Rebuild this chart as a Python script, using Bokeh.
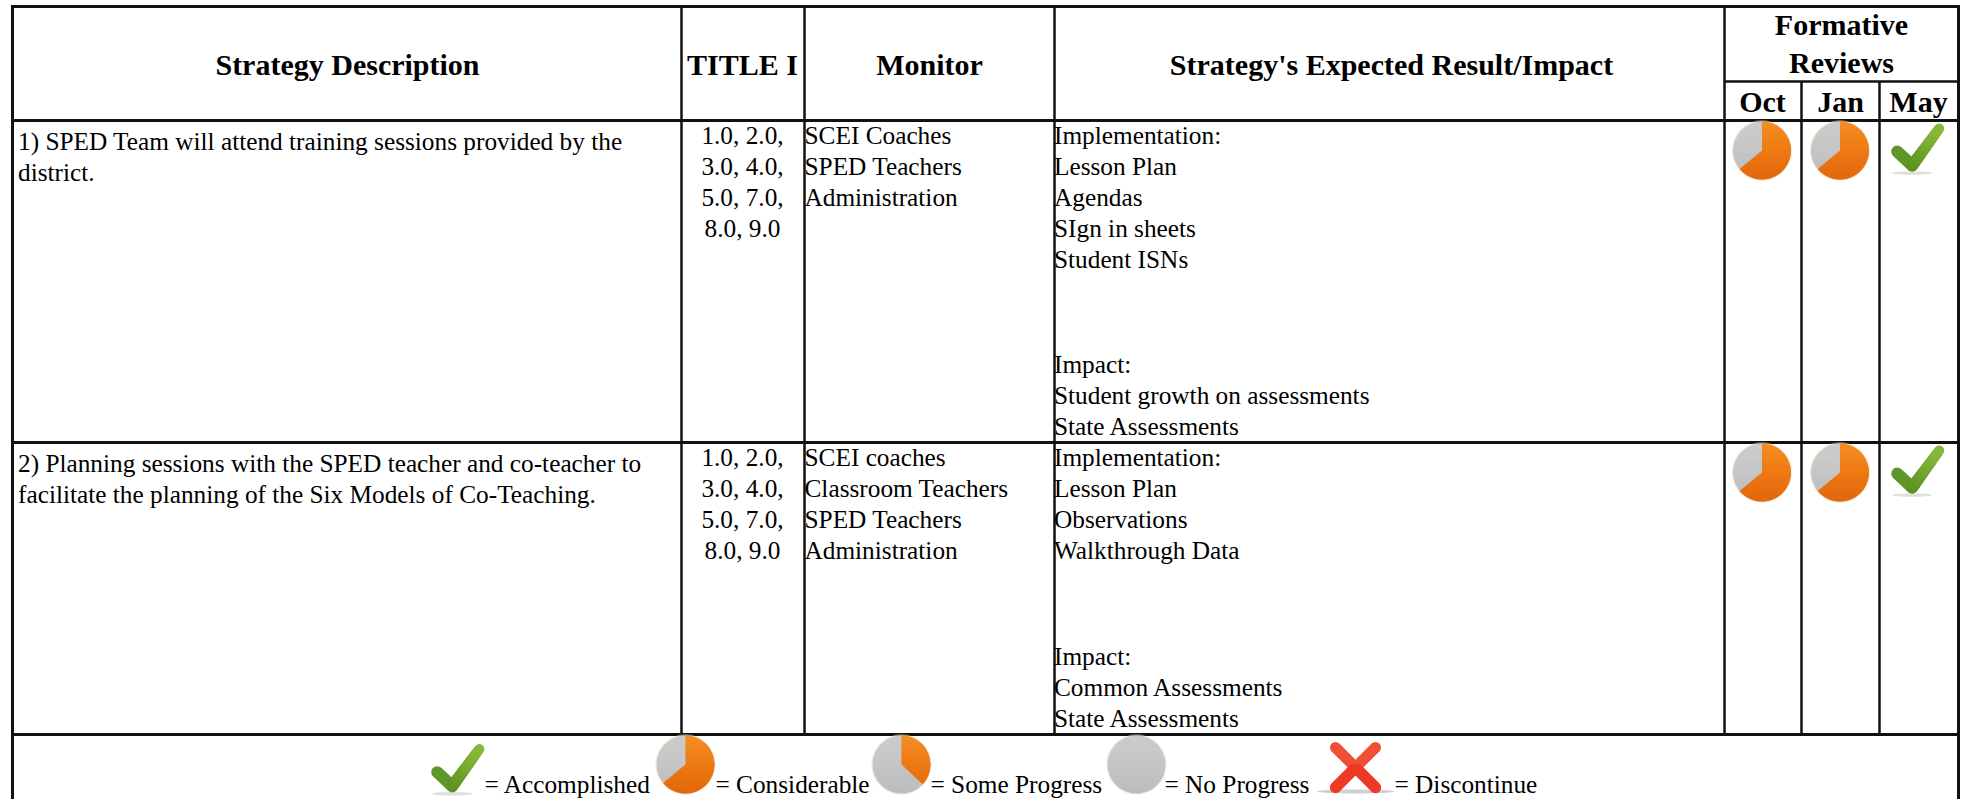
import numpy as np
from bokeh.plotting import figure
from bokeh.models import Range1d
from bokeh.core.properties import value
from bokeh.embed import file_html
from bokeh.resources import INLINE

# ---------- content ----------
headers = ["Strategy Description", "TITLE I", "Monitor", "Strategy's Expected Result/Impact"]
review_title = ["Formative", "Reviews"]
review_months = ["Oct", "Jan", "May"]
strategy_text = [
    ["1) SPED Team will attend training sessions provided by the", "district."],
    ["2) Planning sessions with the SPED teacher and co-teacher to", "facilitate the planning of the Six Models of Co-Teaching."],
]
title_text = [
    ["1.0, 2.0,", "3.0, 4.0,", "5.0, 7.0,", "8.0, 9.0"],
    ["1.0, 2.0,", "3.0, 4.0,", "5.0, 7.0,", "8.0, 9.0"],
]
monitor_text = [
    ["SCEI Coaches", "SPED Teachers", "Administration"],
    ["SCEI coaches", "Classroom Teachers", "SPED Teachers", "Administration"],
]
implementation_text = [
    ["Implementation:", "Lesson Plan", "Agendas", "SIgn in sheets", "Student ISNs"],
    ["Implementation:", "Lesson Plan", "Observations", "Walkthrough Data"],
]
impact_text = [
    ["Impact:", "Student growth on assessments", "State Assessments"],
    ["Impact:", "Common Assessments", "State Assessments"],
]
review_status = [
    ["considerable", "considerable", "accomplished"],
    ["considerable", "considerable", "accomplished"],
]
legend_status = ["accomplished", "considerable", "some", "none", "discontinue"]
legend_text = ["= Accomplished", "= Considerable", "= Some Progress", "= No Progress", "= Discontinue"]
progress_share = {"considerable": 0.64, "some": 0.37, "none": 0.0}

# ---------- layout (reference pixels) ----------
W, H = 1969, 799
COL = [12, 681, 804, 1054, 1724, 1801, 1879, 1958]
ROW = [6, 120, 442, 734]
SUB = 81
ROW_OFFSET = ROW[2] - ROW[1]
LINE = 31
BODY_PX = 25.3
HEAD_PX = 30
BASE_ADJ = 0.36  # the page draws text lower than its anchor by about this share of the size
FONT = value("Liberation Serif")
INK = "#111111"

p = figure(width=W, height=H, x_range=Range1d(0, W), y_range=Range1d(H, 0),
           output_backend="svg", toolbar_location=None, min_border=0,
           margin=(0, 0, 0, 0), background_fill_color="white", border_fill_color="white")
p.axis.visible = False
p.grid.visible = False
p.outline_line_color = None


def put(x, y, s, size=BODY_PX, style="normal", align="left"):
    p.text([x], [y - BASE_ADJ * size], text=[s], text_font=FONT, text_font_size=f"{size}px",
           text_font_style=style, text_align=align, text_baseline="alphabetic", text_color="#000000")


def tinted_rows(cx, cy, r, share):
    """Top-to-bottom shading of the pie: light at the top, dark at the bottom."""
    x0, x1, y0, y1, col, alp = [], [], [], [], [], []
    for dy in np.arange(-r, r, 1.0):
        ymid = dy + 0.5
        half = np.sqrt(max(r * r - ymid * ymid, 0))
        xs = np.linspace(-half, half, 161)
        clock = np.mod(np.arctan2(xs, -ymid), 2 * np.pi) / (2 * np.pi)
        inside_orange = clock <= share
        t = (ymid + r) / (2 * r)
        if share > 0 and inside_orange.any():
            x0.append(cx + xs[inside_orange].min()); x1.append(cx + xs[inside_orange].max())
            y0.append(cy + dy); y1.append(cy + dy + 1)
            col.append("#ffb347" if t < 0.5 else "#c94a00")
            alp.append(abs(t - 0.5) * 0.8)
        if (~inside_orange).any():
            x0.append(cx + xs[~inside_orange].min()); x1.append(cx + xs[~inside_orange].max())
            y0.append(cy + dy); y1.append(cy + dy + 1)
            col.append("#e6e6e6" if t < 0.5 else "#9a9a9a")
            alp.append(abs(t - 0.5) * 0.45)
    p.quad(left=x0, right=x1, top=y0, bottom=y1, fill_color=col, fill_alpha=alp, line_color=None)


def pie(cx, cy, share, r=29):
    p.circle([cx], [cy], radius=r + 1.2, fill_color="#fbd9b0" if share else "#dddddd",
             fill_alpha=0.55, line_color=None)
    p.circle([cx], [cy], radius=r, fill_color="#c6c6c6", line_color=None)
    if share > 0:
        start = np.pi / 2
        p.wedge([cx], [cy], radius=r, start_angle=start, end_angle=start - share * 2 * np.pi,
                direction="clock", fill_color="#ef7a14", line_color=None)
    tinted_rows(cx, cy, r, share)


def check(vx, vy):
    p.ellipse([vx], [vy + 7.5], width=40, height=3.5, fill_color="#8a9a80", fill_alpha=0.3, line_color=None)
    n = 10
    tx, ty = vx + 27, vy - 37
    lx, ly = vx - 15, vy - 14
    p.segment([lx], [ly], [vx], [vy], line_color="#5f962a", line_width=12, line_cap="round")
    for i in range(n):
        a, b = i / n, (i + 1) / n
        c = (int(0x5c + (0x8c - 0x5c) * a), int(0x92 + (0xbc - 0x92) * a), int(0x22 + (0x3c - 0x22) * a))
        p.segment([vx + (tx - vx) * a], [vy + (ty - vy) * a], [vx + (tx - vx) * b], [vy + (ty - vy) * b],
                  line_color="#%02x%02x%02x" % c, line_width=12 - 2 * a, line_cap="round")


def cross(cx, cy):
    p.ellipse([cx], [cy + 24], width=78, height=4, fill_color="#888888", fill_alpha=0.4, line_color=None)
    d = 20
    p.segment([cx - d, cx + d], [cy - d, cy - d], [cx + d, cx - d], [cy + d, cy + d],
              line_color="#ef4f35", line_width=11, line_cap="round")
    p.segment([cx - d], [cy + d], [cx - 2], [cy + 2], line_color="#ee3a25", line_width=11, line_cap="round")
    p.segment([cx + d], [cy + d], [cx + 2], [cy + 2], line_color="#ee3a25", line_width=11, line_cap="round")


def icon(status, x, y):
    if status == "accomplished":
        check(x, y)
    elif status == "discontinue":
        cross(x, y)
    else:
        pie(x, y, progress_share[status])


# ---------- grid ----------
p.segment([COL[0], COL[7]], [ROW[0] - 1.5] * 2, [COL[0], COL[7]], [H, H], line_color=INK, line_width=3)
for x in COL[1:5]:
    p.segment([x], [ROW[0]], [x], [ROW[3]], line_color=INK, line_width=2.5)
for x in COL[5:7]:
    p.segment([x], [SUB], [x], [ROW[3]], line_color=INK, line_width=2.5)
for y in ROW:
    p.segment([COL[0]], [y], [COL[7]], [y], line_color=INK, line_width=2.8)
p.segment([COL[4]], [SUB], [COL[7]], [SUB], line_color=INK, line_width=2.5)

# ---------- header ----------
for s, x in zip(headers, [347, 742, 929, 1391]):
    put(x, 75, s, HEAD_PX, "bold", "center")
for s, y in zip(review_title, [35, 73]):
    put(1841, y, s, HEAD_PX, "bold", "center")
for s, x in zip(review_months, [1762, 1840, 1918]):
    put(x, 112, s, HEAD_PX, "bold", "center")

# ---------- body ----------
for i in range(2):
    off = i * ROW_OFFSET
    for j, s in enumerate(strategy_text[i]):
        put(17.5, 150 + off + j * LINE, s)
    for j, s in enumerate(title_text[i]):
        put(742, 144 + off + j * LINE, s, align="center")
    for j, s in enumerate(monitor_text[i]):
        put(804, 144 + off + j * LINE, s)
    for j, s in enumerate(implementation_text[i]):
        put(1053.5, 144 + off + j * LINE, s)
    end = ROW[i + 2] - 7
    n = len(impact_text[i])
    for j, s in enumerate(impact_text[i]):
        put(1053.5, end - (n - 1 - j) * LINE, s)
    for st, cx in zip(review_status[i], [1761.5, 1839.5, 1911.7]):
        icon(st, cx, (165 if st == "accomplished" else 150) + off)

# ---------- legend ----------
legend_icon_x = [451.7, 685, 901, 1136, 1355]
legend_icon_y = [785.7, 764, 764, 764, 767]
legend_text_x = [484, 715, 930, 1164, 1394]
for st, s, ix, iy, tx in zip(legend_status, legend_text, legend_icon_x, legend_icon_y, legend_text_x):
    icon(st, ix, iy)
    put(tx, 793, s)

open("out.html", "w").write(file_html(p, INLINE))
